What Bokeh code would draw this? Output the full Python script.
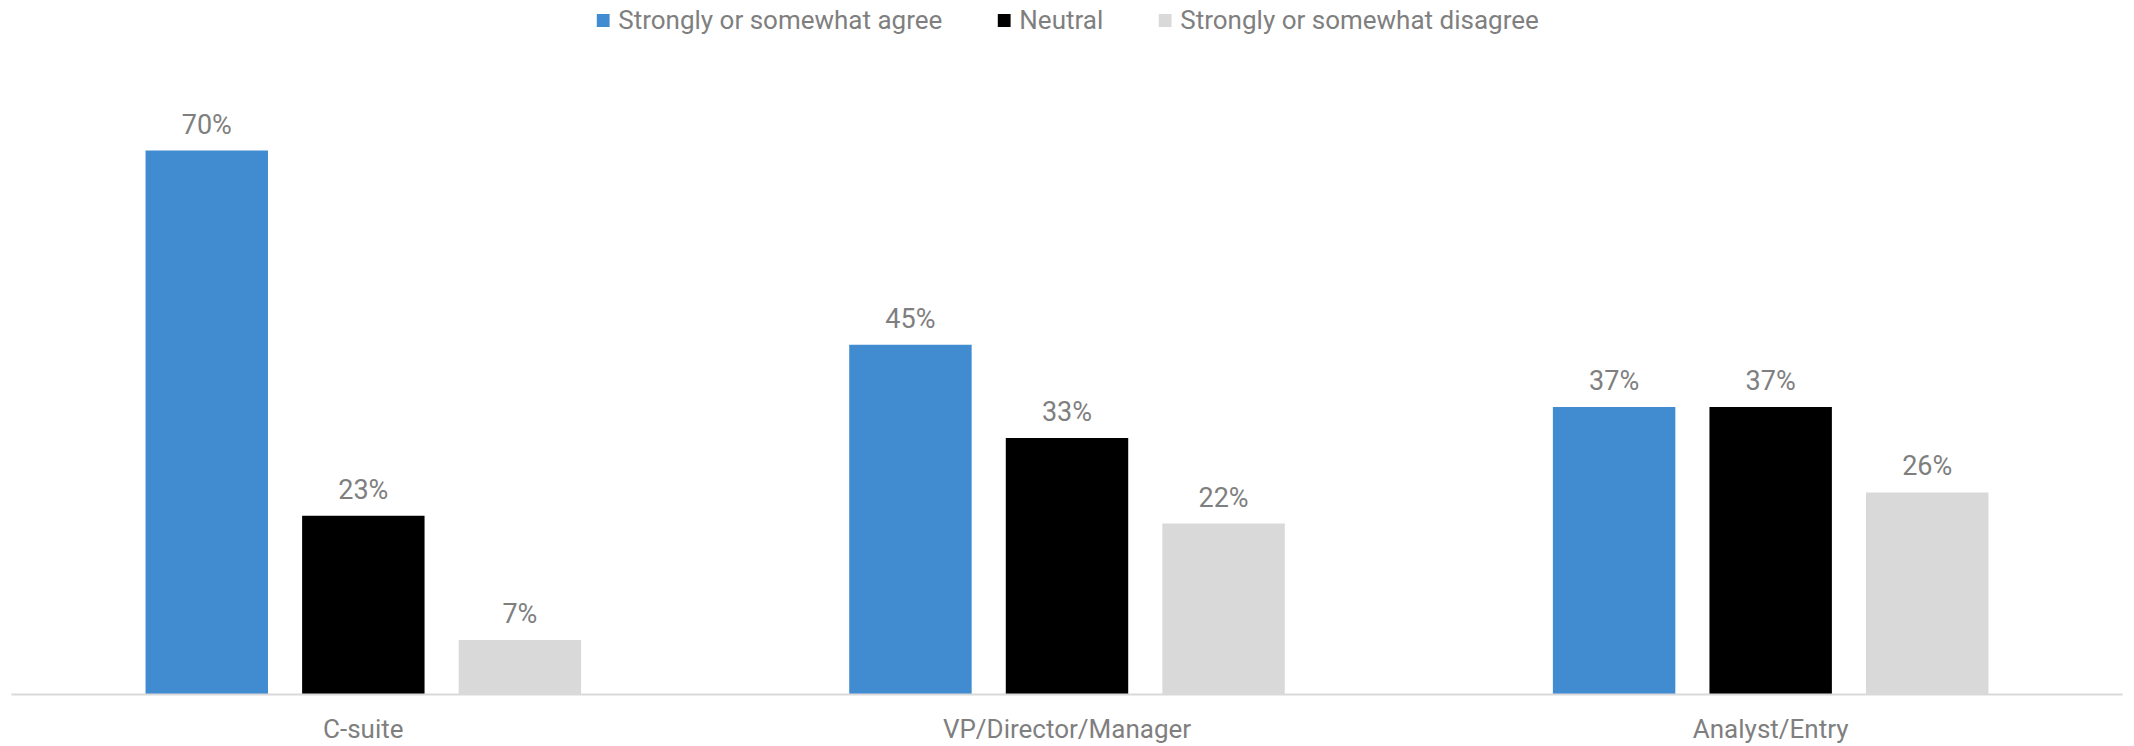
from bokeh.plotting import figure
from bokeh.models import Range1d, FactorRange, ColumnDataSource, LabelSet, Legend, LegendItem
from bokeh.transform import dodge
from bokeh.core.properties import value
from bokeh.embed import file_html
from bokeh.resources import INLINE

categories = ["C-suite", "VP/Director/Manager", "Analyst/Entry"]
series_names = ["Strongly or somewhat agree", "Neutral", "Strongly or somewhat disagree"]
agree = [70, 45, 37]
neutral = [23, 33, 37]
disagree = [7, 22, 26]

colors = ["#418BD0", "#000000", "#D9D9D9"]
offsets = [-0.2225, 0.0, 0.2225]
TEXT = "#7F7F7F"
FONT = "Roboto"

W, H = 2125, 746
top_b, bot_b = 5, 52
frame_h = H - top_b - bot_b
px_per_pct = 7.77

p = figure(width=W, height=H, output_backend="svg", toolbar_location=None,
           x_range=FactorRange(*categories, range_padding=0),
           y_range=Range1d(0, frame_h / px_per_pct),
           min_border_left=11, min_border_right=3, min_border_top=top_b, min_border_bottom=bot_b)

items = []
for name, vals, col, off in zip(series_names, [agree, neutral, disagree], colors, offsets):
    src = ColumnDataSource(dict(cat=categories, v=vals, lab=[f"{v}%" for v in vals]))
    r = p.vbar(x=dodge("cat", off, range=p.x_range), top="v", width=0.174, source=src,
               fill_color=col, line_color=None)
    items.append(LegendItem(label=name, renderers=[r]))
    p.add_layout(LabelSet(x=dodge("cat", off, range=p.x_range), y="v", text="lab", source=src,
                          text_align="center", text_baseline="alphabetic", y_offset=17,
                          text_color=TEXT, text_font=value(FONT), text_font_size="27px"))

legend = Legend(items=items, location="top_center", orientation="horizontal",
                border_line_color=None, background_fill_alpha=0,
                label_text_font=FONT, label_text_font_size="26px", label_text_color=TEXT,
                glyph_width=16, glyph_height=16, label_standoff=8, spacing=53,
                margin=0, padding=0)
p.add_layout(legend)

p.yaxis.visible = False
p.grid.visible = False
p.outline_line_color = None
p.xaxis.axis_line_color = "#D9D9D9"
p.xaxis.axis_line_width = 2
p.xaxis.major_tick_line_color = None
p.xaxis.minor_tick_line_color = None
p.xaxis.major_tick_out = 0
p.xaxis.major_tick_in = 0
p.xaxis.major_label_standoff = 19
p.xaxis.major_label_text_font = FONT
p.xaxis.major_label_text_font_size = "26px"
p.xaxis.major_label_text_color = TEXT

open("out.html", "w").write(file_html(p, INLINE))
